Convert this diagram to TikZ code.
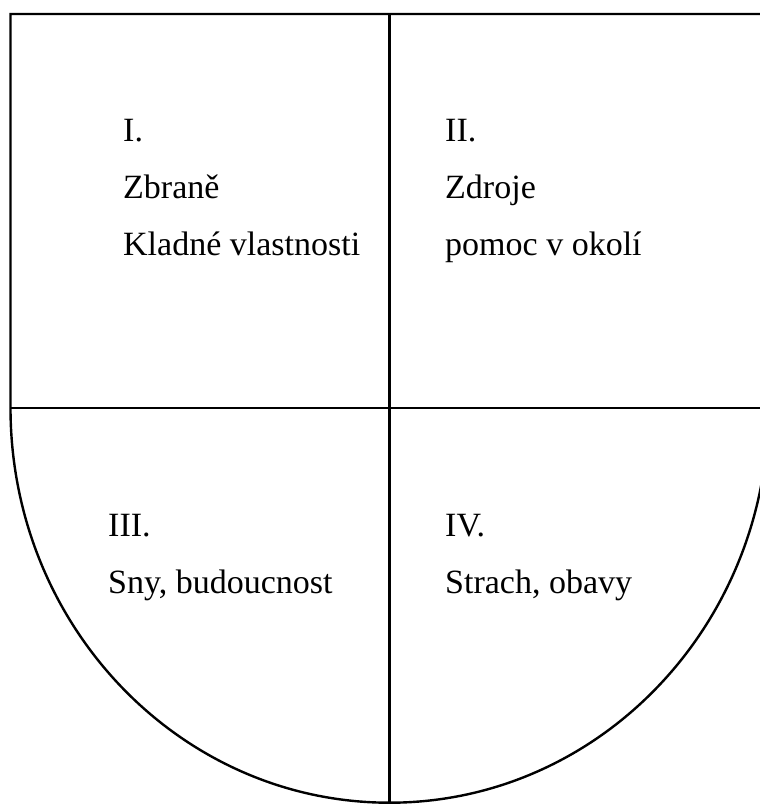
\documentclass[tikz,border=0pt]{standalone}
\usepackage{fontspec}
\setmainfont{Liberation Serif}
\begin{document}
\begin{tikzpicture}[x=1pt,y=-1pt,
  lbl/.style={anchor=base west,inner sep=0pt,font=\fontsize{34}{40}\selectfont},
  edge/.style={line width=2.4pt,black}]
\useasboundingbox (0,0) rectangle (760,804);
\clip (0,0) rectangle (760,804);
\coordinate (tl) at (10.5,14);
\coordinate (tr) at (780,14);
\coordinate (ml) at (10.5,407.7);
\coordinate (mr) at (780,407.7);
\coordinate (tc) at (389.5,14);
\coordinate (bc) at (389.5,804);
\draw[edge,line join=miter] (tr) -- (tl) -- (ml)
  arc[start angle=180,end angle=90,x radius=379,y radius=395]
  arc[start angle=90,end angle=0,x radius=379,y radius=395] -- (768.5,14);
\draw[edge] (ml) -- (mr);
\draw[edge] (tc) -- (bc);
\node[lbl] (a1) at (123,141) {I.};
\node[lbl] (a2) at (123,198) {Zbraně};
\node[lbl] (a3) at (123,255) {Kladné vlastnosti};
\node[lbl] (b1) at (445,141) {II.};
\node[lbl] (b2) at (445,198) {Zdroje};
\node[lbl] (b3) at (445,255) {pomoc v okolí};
\node[lbl] (c1) at (108,536) {III.};
\node[lbl] (c2) at (108,593) {Sny, budoucnost};
\node[lbl] (d1) at (445,536) {IV.};
\node[lbl] (d2) at (445,593) {Strach, obavy};
\end{tikzpicture}
\end{document}
